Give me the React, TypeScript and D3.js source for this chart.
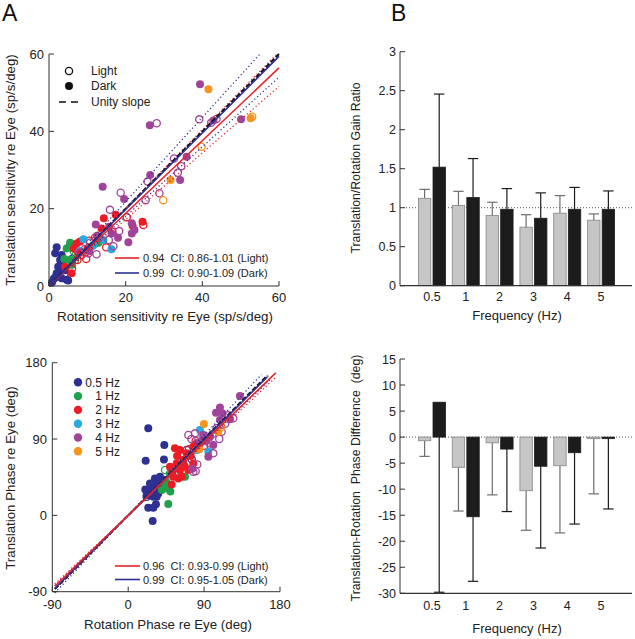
import React from 'react';
import * as d3 from 'd3';

// ---------- Data ----------
const freqLabels = ['0.5', '1', '2', '3', '4', '5'];
const freqNames = ['0.5 Hz', '1 Hz', '2 Hz', '3 Hz', '4 Hz', '5 Hz'];
const freqColors = ['#2e3192', '#1fa04c', '#ed1c24', '#27aae1', '#a0449a', '#f7941d'];

// Gain ratio (B top)
const gainLight = [1.12, 1.03, 0.9, 0.75, 0.93, 0.84];
const gainLightErr = [1.235, 1.21, 1.07, 0.91, 1.155, 0.92];
const gainDark = [1.52, 1.13, 0.98, 0.865, 0.98, 0.98];
const gainDarkErr = [2.457, 1.63, 1.245, 1.19, 1.26, 1.215];
const gainTicks = [0, 0.5, 1, 1.5, 2, 2.5, 3];

// Phase difference (B bottom)
const phaseLight = [-0.7, -5.8, -1.1, -10.3, -5.5, -0.3];
const phaseLightErr = [-3.7, -14.2, -11.1, -17.9, -18.4, -10.9];
const phaseDark = [6.7, -15.3, -2.3, -5.6, -3.0, -0.3];
const phaseDarkErr = [-29.8, -27.7, -14.3, -21.3, -16.7, -13.8];
const phaseTicks = [15, 10, 5, 0, -5, -10, -15, -20, -25, -30];

// Sensitivity scatter (A top): [rotation, translation, dark(1)/light(0)]
type Pt = [number, number, number];
const sens05: Pt[] = [
  [2.0, 10.0, 1], [3.3, 8.0, 1], [3.7, 6.7, 1], [2.4, 5.0, 1], [2.0, 3.3, 1], [1.6, 2.2, 1],
  [3.3, 2.0, 1], [5.0, 1.4, 1], [5.2, 10.0, 1], [4.2, 4.1, 1], [0.8, 1.0, 1], [2.9, 6.7, 1],
  [1.6, 8.5, 1], [2.9, 3.7, 1], [4.6, 1.6, 1], [2.0, 2.4, 1], [3.0, 4.5, 1], [1.2, 1.8, 1],
  [4.0, 3.0, 0], [3.5, 5.5, 1], [6.0, 7.0, 0],
];
const sens1: Pt[] = [
  [5.5, 11.2, 1], [4.0, 7.0, 1], [5.5, 6.7, 1], [12.9, 11.2, 1], [6.5, 8.9, 0], [11.1, 10.2, 1],
  [6.0, 5.5, 1], [4.6, 9.7, 1], [7.0, 8.0, 0], [12.0, 11.0, 0], [6.8, 6.7, 0],
];
const sens2: Pt[] = [
  [14.3, 17.5, 1], [17.4, 18.4, 1], [13.7, 14.9, 1], [21.8, 15.6, 1], [24.4, 16.6, 1], [8.1, 11.5, 1],
  [6.5, 9.7, 1], [4.2, 5.0, 1], [5.9, 3.3, 1], [7.2, 11.0, 1], [10.0, 9.5, 1], [7.6, 8.6, 1],
  [20.3, 17.8, 0], [24.6, 15.8, 0], [9.7, 7.0, 0], [7.4, 6.7, 0], [14.9, 10.0, 0], [10.5, 11.7, 0],
  [12.0, 12.5, 0], [8.5, 8.0, 0], [6.0, 4.5, 0], [16.5, 14.0, 0],
];
const sens3: Pt[] = [
  [9.0, 12.1, 1], [14.2, 11.9, 1], [16.3, 9.5, 1], [11.5, 10.5, 1], [8.0, 9.0, 0],
];
const sens4: Pt[] = [
  [39.4, 52.2, 1], [26.3, 41.6, 1], [50.1, 43.1, 1], [42.9, 42.8, 1], [35.9, 33.4, 1], [34.2, 27.4, 1],
  [26.4, 28.7, 1], [14.0, 25.7, 1], [19.6, 22.5, 1], [21.6, 16.2, 1], [22.3, 14.5, 1], [21.6, 13.6, 1],
  [20.7, 11.3, 1], [16.3, 13.6, 1], [15.7, 15.3, 1], [12.2, 15.9, 1], [10.5, 9.0, 1], [12.5, 13.0, 1],
  [18.0, 12.5, 1],
  [28.1, 42.1, 0], [39.2, 43.1, 0], [42.3, 42.2, 0], [43.7, 43.2, 0], [32.6, 33.0, 0], [33.6, 29.3, 0],
  [25.7, 27.0, 0], [28.8, 24.0, 0], [25.2, 22.2, 0], [18.7, 24.1, 0], [15.9, 19.7, 0], [18.3, 14.2, 0],
  [15.6, 11.9, 0], [16.8, 10.3, 0], [10.3, 8.4, 0], [12.4, 8.2, 0], [10.7, 11.2, 0], [9.4, 9.6, 0],
  [8.1, 8.7, 0], [13.0, 12.5, 0], [34.5, 31.0, 0],
];
const sens5: Pt[] = [
  [41.6, 50.9, 1], [52.6, 43.4, 1], [31.7, 27.4, 1], [53.0, 43.8, 0], [39.8, 36.0, 0], [29.8, 22.2, 0],
];
const sensTicks = [0, 20, 40, 60];
const sensFit = [0.94, 0.99]; // light, dark
const sensCI = [[0.86, 1.01], [0.90, 1.09]];

// Phase scatter (A bottom)
const phase05: Pt[] = [
  [23.8, 102.6, 1], [20.7, 64.4, 1], [42.8, 82.9, 1], [42.4, 66.0, 1], [23.8, 9.0, 1], [29.8, 9.0, 1],
  [32.9, 13.0, 1], [29.0, -6.7, 1], [20.3, 30.6, 1], [25.8, 37.7, 1], [31.7, 43.6, 1], [37.7, 45.6, 1],
  [33.7, 33.8, 1], [27.8, 25.9, 1], [39.6, 31.8, 1], [21.9, 24.0, 1], [35.7, 25.9, 1], [41.6, 41.6, 1],
  [29.8, 22.0, 1], [33.8, 22.0, 1], [24.0, 30.0, 1], [30.0, 38.0, 1], [36.0, 40.0, 1], [28.0, 32.0, 1],
  [34.0, 28.0, 1], [26.0, 28.0, 1], [38.0, 36.0, 1], [32.0, 30.0, 1],
  [25.0, 24.0, 0], [35.0, 35.0, 0], [22.0, 22.0, 0], [40.0, 38.0, 0], [69.4, 77.0, 0], [75.3, 66.1, 0],
];
const phase1: Pt[] = [
  [47.5, 13.3, 1], [67.3, 45.6, 1], [47.5, 31.8, 1], [43.6, 37.7, 1], [45.0, 40.0, 1], [50.0, 28.0, 1],
  [40.0, 30.0, 1], [49.5, 49.5, 0], [75.2, 55.4, 0], [55.0, 48.0, 0], [43.7, 53.5, 0],
];
const phase2: Pt[] = [
  [55.4, 79.0, 1], [61.4, 77.0, 1], [49.5, 57.4, 1], [57.4, 61.3, 1], [53.5, 45.6, 1], [63.4, 45.6, 1],
  [61.4, 53.5, 1], [65.3, 65.3, 1], [69.3, 73.1, 1], [77.2, 80.9, 1], [81.1, 84.9, 1], [87.1, 86.8, 1],
  [51.5, 36.5, 1], [59.4, 43.6, 1], [71.2, 53.5, 1], [77.2, 61.3, 1], [58.0, 70.0, 1], [67.0, 58.0, 1],
  [74.0, 70.0, 1], [84.0, 78.0, 1], [52.0, 50.0, 1],
  [72.0, 78.0, 0], [80.0, 88.0, 0], [65.0, 60.0, 0], [90.0, 82.0, 0], [60.0, 55.0, 0],
];
const phase3: Pt[] = [
  [85.1, 100.6, 1], [95.0, 75.0, 1], [81.1, 77.0, 1], [91.0, 88.8, 1], [88.0, 95.0, 0],
];
const phase4: Pt[] = [
  [132.5, 140.7, 1], [108.8, 127.3, 1], [104.1, 121.0, 1], [120.7, 113.2, 1], [89.1, 94.7, 1], [97.0, 92.7, 1],
  [85.1, 86.8, 1], [95.0, 69.1, 1], [108.8, 112.4, 1], [100.9, 82.9, 1], [112.0, 120.0, 1], [93.0, 88.0, 1],
  [76.0, 55.0, 1],
  [77.2, 51.4, 0], [80.0, 52.0, 0], [71.3, 94.7, 0], [79.2, 96.7, 0], [100.9, 73.1, 0], [104.9, 102.6, 0],
  [110.8, 98.6, 0], [115.0, 108.0, 0], [108.0, 90.0, 0], [100.0, 96.0, 0], [75.0, 90.0, 0], [96.0, 85.0, 0],
  [118.0, 118.0, 0], [82.0, 60.0, 0], [124.6, 114.4, 0],
];
const phase5: Pt[] = [
  [89.8, 107.6, 1], [106.8, 98.6, 1], [110.0, 104.0, 0], [84.0, 78.0, 1],
];
const phaseAxisTicks = [-90, 0, 90, 180];
const phaseFit = [0.96, 0.99];
const phaseCI = [[0.93, 0.99], [0.95, 1.05]];

// ---------- Styling ----------
const FONT = "'Liberation Sans', Arial, Helvetica, sans-serif";
const AX = '#333';
const RED = '#e8242a';
const BLUE = '#2e3192';
const LIGHT_FILL = '#c6c6c6';
const LIGHT_STROKE = '#858585';
const DARK_FILL = '#1c1c1c';

const sensSeries = [sens05, sens1, sens2, sens3, sens4, sens5];
const phaseSeries = [phase05, phase1, phase2, phase3, phase4, phase5];

function Points({ series, x, y }: { series: Pt[][]; x: any; y: any }) {
  return (
    <g>
      {series.map((pts, si) =>
        pts.map((p, i) =>
          p[2] ? (
            <circle key={`${si}-${i}`} cx={x(p[0])} cy={y(p[1])} r={4} fill={freqColors[si]} />
          ) : (
            <circle key={`${si}-${i}`} cx={x(p[0])} cy={y(p[1])} r={3.6} fill="none" stroke={freqColors[si]} strokeWidth={1.3} />
          )
        )
      )}
    </g>
  );
}

function FitLine({ x, y, slope, x0, x1, color, dash, width }: any) {
  const line = d3.line<number>().x((v) => x(v)).y((v) => y(v * slope));
  return <path d={line([x0, x1]) || ''} stroke={color} strokeWidth={width} strokeDasharray={dash} fill="none" />;
}

function BarPanel({ yScale, ticks, light, lightErr, dark, darkErr, axisBottom, refY, yLabel, labelY, tickBase, xLabelBase, fmt }: any) {
  const xBand = d3.scaleBand<string>().domain(freqLabels).range([415, 618]).paddingInner(0);
  const inner = d3.scaleBand<string>().domain(['light', 'dark']).range([-13.5, 13.5]).paddingInner(0.15);
  const bw = inner.bandwidth();
  const yBottom = yScale(axisBottom);
  const yTop = yScale(ticks[0] > ticks[ticks.length - 1] ? ticks[0] : ticks[ticks.length - 1]);
  const y0 = yScale(0);
  const groups = [
    { key: 'light', vals: light, errs: lightErr, fill: LIGHT_FILL, stroke: LIGHT_STROKE, err: '#6e6e6e' },
    { key: 'dark', vals: dark, errs: darkErr, fill: DARK_FILL, stroke: DARK_FILL, err: '#1c1c1c' },
  ];
  return (
    <g fontFamily={FONT}>
      <line x1={400} x2={632} y1={yScale(refY)} y2={yScale(refY)} stroke="#555" strokeWidth={1} strokeDasharray="1,2" />
      {groups.map((g) =>
        freqLabels.map((f, i) => {
          const cx = (xBand(f) as number) + xBand.bandwidth() / 2 + (inner(g.key) as number);
          const v = g.vals[i];
          const top = Math.min(yScale(v), y0);
          const h = Math.abs(yScale(v) - y0);
          const mid = cx + bw / 2;
          return (
            <g key={g.key + f}>
              <line x1={mid} x2={mid} y1={yScale(v)} y2={yScale(g.errs[i])} stroke={g.err} strokeWidth={1.2} />
              <line x1={cx + 1} x2={cx + bw - 1} y1={yScale(g.errs[i])} y2={yScale(g.errs[i])} stroke={g.err} strokeWidth={1.2} />
              <rect x={cx} y={top} width={bw} height={Math.max(h, 1)} fill={g.fill} stroke={g.stroke} strokeWidth={0.8} />
            </g>
          );
        })
      )}
      <line x1={400} x2={400} y1={yTop} y2={yBottom} stroke={AX} strokeWidth={1} />
      <line x1={400} x2={632} y1={yBottom} y2={yBottom} stroke={AX} strokeWidth={1.2} />
      {ticks.map((t: number) => (
        <g key={t}>
          <line x1={400} x2={405} y1={yScale(t)} y2={yScale(t)} stroke={AX} strokeWidth={1} />
          <text x={396} y={yScale(t) + 4.5} textAnchor="end" fontSize={12.5} fill="#222">{fmt(t)}</text>
        </g>
      ))}
      {freqLabels.map((f) => (
        <text key={f} x={(xBand(f) as number) + xBand.bandwidth() / 2} y={tickBase} textAnchor="middle" fontSize={12.5} fill="#222">{f}</text>
      ))}
      <text x={517} y={xLabelBase} textAnchor="middle" fontSize={13} fill="#222">Frequency (Hz)</text>
      <text transform={`translate(360,${labelY}) rotate(-90)`} textAnchor="middle" fontSize={12.3} fill="#222" style={{ whiteSpace: 'pre' }}>{yLabel}</text>
    </g>
  );
}

export default function App() {
  // A top: sensitivity
  const gx = d3.scaleLinear().domain([0, 60]).range([49, 279]);
  const gy = d3.scaleLinear().domain([0, 60]).range([286, 54]);
  // A bottom: phase
  const px = d3.scaleLinear().domain([-90, 180]).range([52.3, 280]);
  const py = d3.scaleLinear().domain([-90, 180]).range([591.7, 362.7]);
  // B
  const by1 = d3.scaleLinear().domain([0, 3]).range([285.7, 51.7]);
  const by2 = d3.scaleLinear().domain([-30, 15]).range([593.3, 359]);

  const fitColors = [RED, BLUE];

  return (
    <svg width={635} height={639} style={{ position: 'absolute', left: 0, top: 0, background: '#fff' }} fontFamily={FONT}>
      <rect x={0} y={0} width={635} height={639} fill="#fff" />
      {/* Panel letters */}
      <text x={2} y={21} fontSize={23} fill="#111">A</text>
      <text x={391} y={21} fontSize={23} fill="#111">B</text>

      {/* ===== A top ===== */}
      <Points series={sensSeries} x={gx} y={gy} />
      {sensCI.map((ci, k) =>
        ci.map((s, j) => (
          <FitLine key={`sci${k}${j}`} x={gx} y={gy} slope={s} x0={0} x1={Math.min(60, 60 / s)} color={fitColors[k]} dash="1.2,2.6" width={1.3} />
        ))
      )}
      <FitLine x={gx} y={gy} slope={1} x0={0} x1={60} color="#111" dash="5,2" width={2} />
      {sensFit.map((s, k) => (
        <FitLine key={`sf${k}`} x={gx} y={gy} slope={s} x0={0} x1={60} color={fitColors[k]} width={1.6} />
      ))}
      <line x1={49} x2={49} y1={54} y2={286} stroke={AX} />
      <line x1={49} x2={279} y1={286} y2={286} stroke={AX} />
      {sensTicks.map((t) => (
        <g key={t}>
          <line x1={49} x2={54} y1={gy(t)} y2={gy(t)} stroke={AX} />
          <text x={44} y={gy(t) + 4.5} textAnchor="end" fontSize={13} fill="#222">{t}</text>
          <line x1={gx(t)} x2={gx(t)} y1={286} y2={281} stroke={AX} />
          <text x={gx(t)} y={302} textAnchor="middle" fontSize={13} fill="#222">{t}</text>
        </g>
      ))}
      <text x={165} y={321} textAnchor="middle" fontSize={13.3} fill="#222">Rotation sensitivity re Eye (sp/s/deg)</text>
      <text transform="translate(15,170) rotate(-90)" textAnchor="middle" fontSize={13.3} fill="#222">Translation sensitivity re Eye (sp/s/deg)</text>
      {/* legend top */}
      <circle cx={69} cy={71} r={3.6} fill="none" stroke="#111" strokeWidth={1.3} />
      <text x={91} y={75} fontSize={12} fill="#222">Light</text>
      <circle cx={69} cy={86} r={4} fill="#111" />
      <text x={91} y={90} fontSize={12} fill="#222">Dark</text>
      <line x1={59} x2={79} y1={102} y2={102} stroke="#111" strokeWidth={1.6} strokeDasharray="7,5" />
      <text x={91} y={106} fontSize={12} fill="#222">Unity slope</text>
      {/* legend bottom */}
      <line x1={115} x2={139} y1={258} y2={258} stroke={RED} strokeWidth={1.6} />
      <text x={143} y={262} fontSize={11} fill="#222" style={{ whiteSpace: 'pre' }}>{'0.94  CI: 0.86-1.01 (Light)'}</text>
      <line x1={115} x2={139} y1={273} y2={273} stroke={BLUE} strokeWidth={1.6} />
      <text x={143} y={277} fontSize={11} fill="#222" style={{ whiteSpace: 'pre' }}>{'0.99  CI: 0.90-1.09 (Dark)'}</text>

      {/* ===== A bottom ===== */}
      <Points series={phaseSeries} x={px} y={py} />
      {phaseCI.map((ci, k) =>
        ci.map((s, j) => (
          <FitLine key={`pci${k}${j}`} x={px} y={py} slope={s} x0={-87} x1={Math.min(k === 0 ? 176 : 168, 166 / s)} color={fitColors[k]} dash="1.2,2.6" width={1.3} />
        ))
      )}
      <FitLine x={px} y={py} slope={1} x0={-87} x1={165} color="#111" dash="5,2" width={2} />
      <FitLine x={px} y={py} slope={phaseFit[1]} x0={-87} x1={165} color={BLUE} width={1.6} />
      <FitLine x={px} y={py} slope={phaseFit[0]} x0={-87} x1={175} color={RED} width={1.6} />
      <line x1={52.3} x2={52.3} y1={362.7} y2={591.7} stroke={AX} />
      <line x1={52.3} x2={280} y1={591.7} y2={591.7} stroke={AX} />
      {phaseAxisTicks.map((t) => (
        <g key={t}>
          <line x1={52.3} x2={57.3} y1={py(t)} y2={py(t)} stroke={AX} />
          <text x={47} y={py(t) + 4.5} textAnchor="end" fontSize={13} fill="#222">{t}</text>
          <line x1={px(t)} x2={px(t)} y1={591.7} y2={586.7} stroke={AX} />
          <text x={px(t)} y={609} textAnchor="middle" fontSize={13} fill="#222">{t}</text>
        </g>
      ))}
      <text x={168} y={629} textAnchor="middle" fontSize={13.3} fill="#222">Rotation Phase re Eye (deg)</text>
      <text transform="translate(15,478) rotate(-90)" textAnchor="middle" fontSize={13.3} fill="#222">Translation Phase re Eye (deg)</text>
      {freqNames.map((n, i) => (
        <g key={n}>
          <circle cx={78} cy={382.3 + i * 13.8} r={4.2} fill={freqColors[i]} />
          <text x={120} y={386.5 + i * 13.8} textAnchor="end" fontSize={12} fill="#222">{n}</text>
        </g>
      ))}
      <line x1={115} x2={140} y1={566} y2={566} stroke={RED} strokeWidth={1.6} />
      <text x={143} y={570} fontSize={11} fill="#222" style={{ whiteSpace: 'pre' }}>{'0.96  CI: 0.93-0.99 (Light)'}</text>
      <line x1={115} x2={140} y1={579.5} y2={579.5} stroke={BLUE} strokeWidth={1.6} />
      <text x={143} y={583.5} fontSize={11} fill="#222" style={{ whiteSpace: 'pre' }}>{'0.99  CI: 0.95-1.05 (Dark)'}</text>

      {/* ===== B top ===== */}
      <BarPanel yScale={by1} ticks={gainTicks} light={gainLight} lightErr={gainLightErr} dark={gainDark} darkErr={gainDarkErr}
        axisBottom={0} refY={1} yLabel="Translation/Rotation Gain Ratio" labelY={168} tickBase={301} xLabelBase={320}
        fmt={(t: number) => String(t)} />
      {/* ===== B bottom ===== */}
      <BarPanel yScale={by2} ticks={phaseTicks} light={phaseLight} lightErr={phaseLightErr} dark={phaseDark} darkErr={phaseDarkErr}
        axisBottom={-30} refY={0} yLabel={'Translation-Rotation  Phase Difference  (deg)'} labelY={478} tickBase={610} xLabelBase={633}
        fmt={(t: number) => String(t)} />
    </svg>
  );
}
